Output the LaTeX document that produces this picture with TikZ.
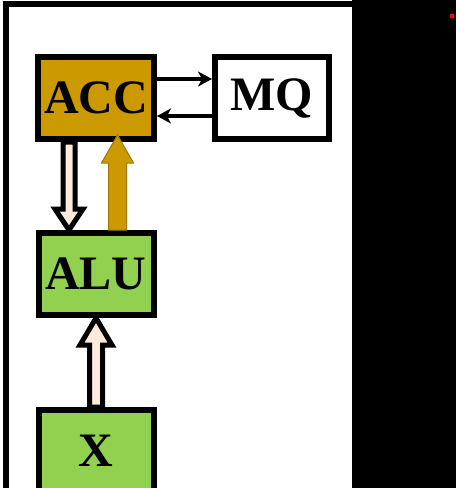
\documentclass[tikz,border=0pt]{standalone}
\usepackage{fontspec}
\setmainfont{Liberation Serif}
\usetikzlibrary{arrows.meta,calc}
\definecolor{accgold}{RGB}{204,153,0}
\definecolor{alugreen}{RGB}{146,208,80}
\definecolor{peach}{RGB}{253,234,218}
\newcommand{\fatarrow}[6]{%
  \draw[#1] let \p1=(#2), \p2=(#3), \n1={sign(\y2-\y1)} in
    ({\x1-#4},\y1) -- ({\x1-#4},{\y2-(\n1)*#6}) -- ({\x1-#5},{\y2-(\n1)*#6}) -- (\x2,\y2)
    -- ({\x1+#5},{\y2-(\n1)*#6}) -- ({\x1+#4},{\y2-(\n1)*#6}) -- ({\x1+#4},\y1) -- cycle;}
\begin{document}
\begin{tikzpicture}[x=1pt,y=-1pt,
    box/.style={draw,line width=6pt,minimum height=82pt,inner sep=0pt,
      font=\fontsize{48}{48}\selectfont\bfseries},
    conn/.style={line width=4pt,-{Stealth[length=14pt,width=15pt,inset=4pt]}},
    hollow/.style={draw=black,fill=peach,line width=5pt},
    goldarrow/.style={draw=accgold!80!black,fill=accgold,line width=1pt}]
  \useasboundingbox (0,0) rectangle (456,488);
  \draw[line width=6pt] (5.5,488) -- (5.5,3.5) -- (352,3.5);
  \fill (352,0) rectangle (456,488);
  \fill[red] (452,16) circle (2.5);
  \node[box,fill=accgold,minimum width=116pt] (acc) at (96,98) {ACC};
  \node[box,fill=white,minimum width=114pt] (mq) at (272,98) {MQ};
  \node[box,fill=alugreen,minimum width=115pt] (alu) at (96,274) {ALU};
  \node[box,fill=alugreen,minimum width=115pt] (x) at (96,451) {X};
  \draw[conn] ([yshift=19pt]acc.east) -- ([yshift=19pt]mq.west);
  \draw[conn] ([yshift=-18pt]mq.west) -- ([yshift=-18pt]acc.east);
  \fatarrow{hollow}{[xshift=-27pt]acc.south}{[xshift=-27pt]alu.north}{6pt}{14pt}{21pt}
  \fatarrow{goldarrow}{[xshift=21.5pt]alu.north}{[xshift=21.5pt,yshift=7pt]acc.south}{9pt}{16pt}{28pt}
  \fatarrow{hollow}{x.north}{alu.south}{6.5pt}{16pt}{27pt}
\end{tikzpicture}
\end{document}
